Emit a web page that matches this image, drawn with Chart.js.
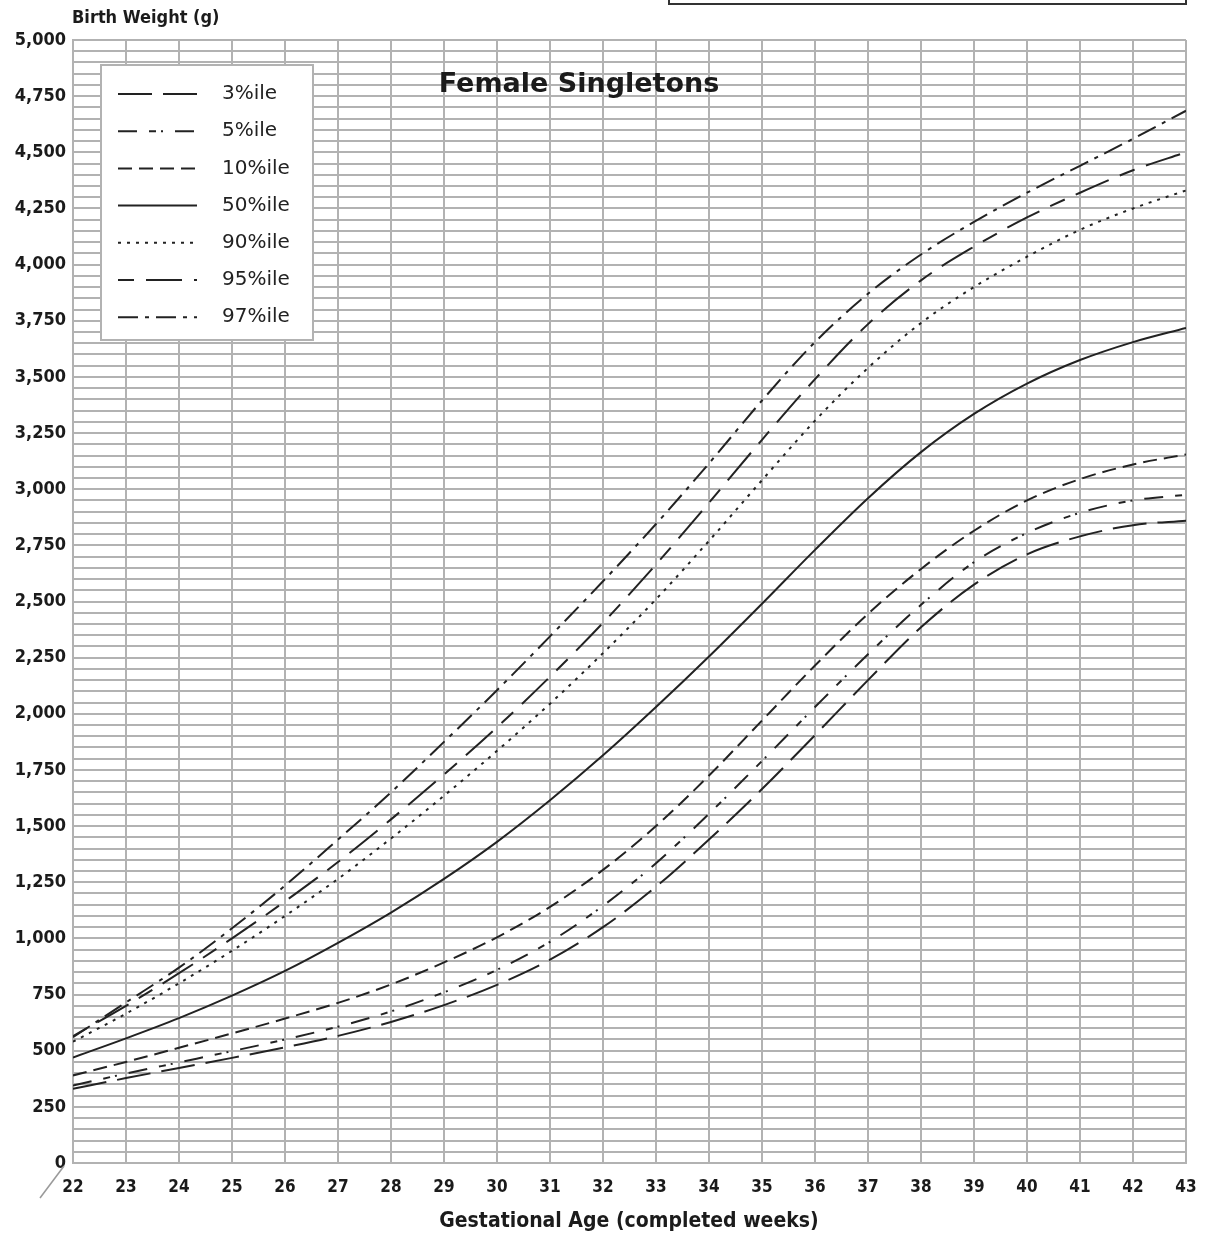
<!DOCTYPE html>
<html lang="en">
<head>
<meta charset="UTF-8">
<title>Female Singletons - Birth Weight Percentiles</title>
<script src="https://cdn.jsdelivr.net/npm/chart.js"></script>
<style>
  html,body{margin:0;padding:0;background:#fff}
  #wrap{width:1211px;height:1237px}
</style>
</head>
<body>
<div id="wrap"><canvas id="chart" width="1211" height="1237"></canvas></div>
<script>
// gestational age, completed weeks
const weeks = [22,23,24,25,26,27,28,29,30,31,32,33,34,35,36,37,38,39,40,41,42,43];

// birth weight percentiles (g)
const p3  = [330,378,423,468,515,566,628,703,793,905,1050,1230,1440,1665,1905,2150,2385,2575,2710,2790,2840,2860];
const p5  = [345,398,448,498,550,607,675,760,860,985,1145,1335,1555,1790,2030,2265,2485,2675,2805,2895,2950,2975];
const p10 = [390,450,513,577,643,713,795,893,1005,1140,1305,1500,1725,1970,2215,2445,2645,2815,2950,3045,3110,3155];
const p50 = [470,555,645,745,855,980,1115,1265,1430,1615,1815,2030,2255,2490,2730,2960,3165,3335,3470,3575,3655,3718];
const p90 = [540,665,800,945,1100,1265,1445,1635,1835,2045,2270,2510,2770,3040,3305,3540,3740,3900,4035,4155,4250,4330];
const p95 = [565,700,845,1000,1165,1340,1530,1730,1940,2165,2405,2665,2940,3220,3490,3735,3930,4080,4210,4320,4420,4500];
const p97 = [560,715,870,1045,1235,1440,1650,1875,2105,2345,2590,2845,3115,3395,3655,3870,4045,4190,4320,4440,4560,4685];

const seriesNames = ['3%ile','5%ile','10%ile','50%ile','90%ile','95%ile','97%ile'];
const seriesValues = [p3, p5, p10, p50, p90, p95, p97];
const seriesDash = [[34,11],[19,12,7,5,2,12],[14,7],[],[3,6],[16,12,36,12],[20,7,4,7]];

const yMin = 0, yMax = 5000, yGridStep = 50, yLabelStep = 250;

const ink = '#1b1b1b';
const gridGrey = '#b2b2b2';
const condensed = '"DejaVu Sans Condensed", "DejaVu Sans", sans-serif';

const datasets = seriesNames.map((name, i) => ({
  label: name,
  data: weeks.map((w, j) => ({x: w, y: seriesValues[i][j]})),
  borderColor: '#222',
  borderWidth: 2,
  borderDash: seriesDash[i],
  pointRadius: 0,
  cubicInterpolationMode: 'monotone',
  fill: false
}));

// titles, legend box, axis break and header frame
const decorations = {
  id: 'decorations',
  afterDraw(chart) {
    const ctx = chart.ctx;
    ctx.save();

    // frame peeking in at the top
    ctx.strokeStyle = '#333';
    ctx.lineWidth = 2;
    ctx.strokeRect(669, -10, 517, 14);

    // axis titles
    ctx.fillStyle = ink;
    ctx.font = 'bold 18px ' + condensed;
    ctx.textAlign = 'left';
    ctx.textBaseline = 'middle';
    ctx.fillText('Birth Weight (g)', 72, 18);

    ctx.font = 'bold 21px ' + condensed;
    ctx.textAlign = 'center';
    ctx.fillText('Gestational Age (completed weeks)', 629, 1222);

    // chart heading
    ctx.font = 'bold 27px "DejaVu Sans", sans-serif';
    ctx.fillText('Female Singletons', 579, 85);

    // little break stroke at the origin
    ctx.strokeStyle = '#9a9a9a';
    ctx.lineWidth = 1.5;
    ctx.beginPath();
    ctx.moveTo(40, 1198);
    ctx.lineTo(64, 1166);
    ctx.stroke();

    // legend box
    const box = {x: 101, y: 65, w: 212, h: 275};
    ctx.fillStyle = '#fff';
    ctx.fillRect(box.x, box.y, box.w, box.h);
    ctx.strokeStyle = gridGrey;
    ctx.lineWidth = 2;
    ctx.strokeRect(box.x, box.y, box.w, box.h);

    ctx.font = '20px "DejaVu Sans", sans-serif';
    ctx.textAlign = 'left';
    ctx.textBaseline = 'middle';
    chart.data.datasets.forEach((ds, i) => {
      const yy = 94 + i * 37.2;
      ctx.strokeStyle = '#222';
      ctx.lineWidth = 2;
      ctx.setLineDash(ds.borderDash);
      ctx.beginPath();
      ctx.moveTo(118, yy);
      ctx.lineTo(197, yy);
      ctx.stroke();
      ctx.setLineDash([]);
      ctx.fillStyle = '#222';
      ctx.fillText(ds.label, 222, yy);
    });

    ctx.restore();
  }
};

new Chart(document.getElementById('chart'), {
  type: 'line',
  data: {datasets},
  options: {
    responsive: false,
    animation: false,
    devicePixelRatio: 1,
    layout: {padding: {top: 40, right: 25, left: 0, bottom: 0}},
    plugins: {legend: {display: false}, tooltip: {enabled: false}},
    scales: {
      x: {
        type: 'linear',
        min: weeks[0],
        max: weeks[weeks.length - 1],
        afterFit: s => { s.height = 74; },
        grid: {color: gridGrey, lineWidth: 2, drawTicks: false},
        border: {color: gridGrey, width: 2},
        ticks: {stepSize: 1, padding: 14, color: ink, font: {family: condensed, weight: 'bold', size: 17}}
      },
      y: {
        min: yMin,
        max: yMax,
        afterFit: s => { s.width = 73; },
        grid: {color: gridGrey, lineWidth: 2, drawTicks: false},
        border: {color: gridGrey, width: 2},
        ticks: {
          stepSize: yGridStep,
          autoSkip: false,
          padding: 7,
          color: ink,
          font: {family: condensed, weight: 'bold', size: 18},
          callback: v => (v % yLabelStep === 0 ? v.toLocaleString('en-US') : '')
        }
      }
    }
  },
  plugins: [decorations]
});
</script>
</body>
</html>
